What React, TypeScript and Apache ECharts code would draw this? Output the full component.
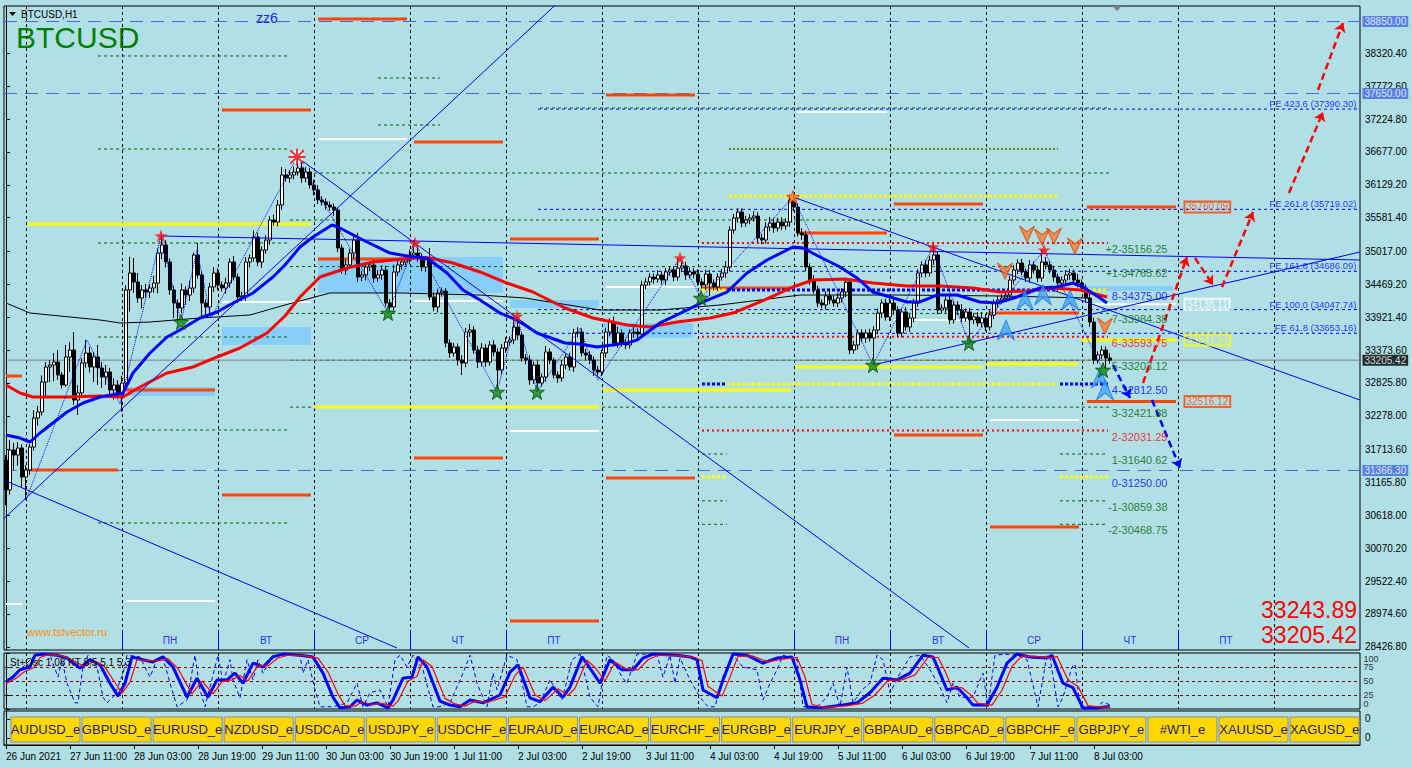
import React, { useEffect, useRef } from "react";
import * as echarts from "echarts";

const BG = "#B0E0E6";
const FONT = "'Liberation Sans', Arial, sans-serif";
const START_UTC = Date.UTC(2021, 5, 26, 19);
const N_SLOTS = 339;
const PRICE_MIN = 28373.5;
const PRICE_MAX = 39109;

// ---------- candles (hourly, from 26 Jun 2021 19:00) ----------
const FIRST_OPEN = 31541;
const CLOSE = [
  31041, 31707, 31624, 31741, 31257, 31374, 31757, 32241, 32341, 32841,
  33091, 33124, 33174, 32958, 32791, 33258, 33374, 32541, 32658, 33158,
  33324, 33091, 33258, 33074, 32924, 33008, 32708, 32791, 32624, 32824,
  34375, 34658, 34508, 34241, 34375, 34341, 34408, 34491, 34991, 35125,
  34841, 34375, 34158, 34075, 34375, 34291, 34408, 34958, 34625, 34158,
  34091, 34425, 34658, 34458, 34408, 34491, 34841, 34591, 34258, 34275,
  34841, 34908, 35258, 34841, 35041, 35208, 35542, 35508, 35792, 36292,
  36242, 36292, 36342, 36408, 36242, 36342, 36125, 36042, 35875, 35842,
  35792, 35758, 35708, 35075, 34708, 34792, 34991, 35208, 34591, 34625,
  34758, 34792, 34575, 34625, 34708, 34158, 34091, 34675, 34792, 34841,
  34875, 34958, 34991, 34908, 34758, 34875, 34258, 34091, 34325, 34358,
  33491, 33324, 33424, 33208, 33158, 33674, 33708, 33374, 33174, 33408,
  33174, 33458, 33341, 33041, 33408, 33508, 33541, 33758, 33625, 33241,
  33208, 32874, 33124, 32824, 32924, 33341, 33208, 32958, 32908, 33124,
  33258, 33091, 33658, 33674, 33324, 33291, 33208, 33041, 33008, 33324,
  33674, 33841, 33491, 33658, 33491, 33458, 33658, 33674, 33641, 34458,
  34508, 34591, 34558, 34625, 34541, 34675, 34708, 34591, 34741, 34775,
  34625, 34675, 34641, 34508, 34458, 34641, 34491, 34425, 34591, 34658,
  34758, 35375, 35575, 35675, 35492, 35542, 35575, 35608, 35242, 35208,
  35425, 35492, 35408, 35508, 35442, 35508, 35875, 35758, 35325, 35292,
  34758, 34541, 34375, 34158, 34125, 34275, 34208, 34158, 34241, 34341,
  34508, 33374, 33458, 33658, 33574, 33658, 33574, 33708, 33991, 34158,
  33925, 34158, 34041, 33658, 34008, 33758, 33908, 34158, 34658, 34792,
  34658, 34875, 34958, 34041, 34075, 34208, 33875, 34125, 34041, 33908,
  34008, 33875, 33925, 33825, 33908, 33758, 33958, 34158, 34208, 34241,
  34291, 34541, 34708, 34825, 34675, 34575, 34792, 34708, 34575, 34841,
  34792, 34708, 34591, 34491, 34541, 34625, 34658, 34541, 34491, 34408,
  34241, 33841, 33208, 33291, 33374, 33241, 33205.42,
];
const UP = [
  80, 170, 120, 100, 60, 80, 50, 130, 100, 110,
  80, 80, 150, 200, 50, 200, 130, 300, 130, 80,
  220, 100, 80, 200, 100, 120, 70, 110, 80, 120,
  80, 270, 250, 150, 80, 100, 60, 120, 80, 167,
  80, 60, 70, 60, 110, 60, 120, 40, 200, 60,
  60, 70, 100, 80, 60, 90, 60, 100, 60, 70,
  80, 60, 110, 70, 60, 80, 60, 90, 80, 130,
  100, 80, 90, 183, 90, 80, 70, 90, 80, 60,
  60, 60, 60, 40, 60, 80, 70, 60, 120, 70,
  80, 60, 90, 80, 80, 70, 60, 120, 80, 60,
  70, 90, 217, 100, 80, 60, 200, 80, 70, 60,
  50, 60, 70, 60, 80, 70, 100, 60, 70, 80,
  60, 70, 80, 60, 70, 80, 60, 150, 130, 40,
  60, 80, 60, 70, 60, 100, 60, 40, 60, 80,
  60, 70, 70, 80, 60, 70, 60, 60, 70, 60,
  70, 60, 90, 100, 60, 70, 60, 80, 60, 70,
  70, 60, 60, 80, 60, 70, 60, 60, 167, 70,
  70, 80, 60, 80, 60, 70, 70, 60, 60, 70,
  100, 60, 70, 60, 60, 70, 60, 80, 60, 70,
  80, 100, 80, 70, 80, 60, 90, 117, 60, 80,
  70, 60, 80, 70, 60, 80, 120, 70, 80, 60,
  60, 60, 70, 60, 60, 60, 70, 60, 80, 60,
  70, 80, 60, 60, 60, 80, 60, 70, 60, 60,
  80, 70, 167, 70, 60, 60, 80, 70, 60, 100,
  60, 70, 60, 80, 100, 70, 80, 60, 70, 60,
  60, 70, 80, 60, 70, 60, 80, 60, 70, 200,
  80, 60, 70, 60, 60, 80, 70, 60, 100, 60,
  60, 80, 70, 60, 70, 60, 80,
];
const DN = [
  250, 80, 250, 180, 170, 380, 80, 60, 130, 60,
  270, 250, 270, 80, 60, 30, 250, 80, 250, 80,
  80, 90, 250, 280, 180, 130, 80, 160, 50, 280,
  100, 360, 180, 80, 170, 90, 100, 80, 170, 100,
  90, 80, 250, 233, 90, 160, 100, 80, 60, 250,
  180, 100, 80, 90, 60, 100, 80, 60, 100, 70,
  80, 90, 60, 70, 100, 60, 80, 60, 70, 80,
  60, 80, 70, 60, 80, 70, 60, 90, 70, 60,
  80, 60, 100, 70, 60, 80, 60, 90, 80, 70,
  90, 70, 80, 60, 80, 60, 100, 60, 70, 80,
  60, 70, 80, 60, 70, 80, 60, 70, 90, 60,
  70, 80, 60, 90, 200, 70, 80, 60, 100, 70,
  80, 60, 70, 333, 70, 80, 60, 70, 80, 60,
  70, 80, 60, 150, 60, 80, 70, 60, 80, 60,
  70, 60, 80, 70, 60, 80, 70, 100, 60, 70,
  80, 70, 60, 80, 60, 70, 60, 80, 70, 60,
  70, 60, 80, 60, 70, 80, 60, 70, 60, 70,
  80, 60, 70, 60, 60, 80, 217, 60, 70, 60,
  80, 70, 60, 80, 70, 60, 70, 60, 80, 70,
  60, 70, 80, 60, 70, 60, 80, 70, 60, 80,
  70, 80, 60, 70, 60, 80, 70, 60, 70, 80,
  83, 70, 60, 80, 70, 80, 60, 450, 70, 80,
  60, 70, 80, 60, 70, 60, 80, 70, 60, 70,
  70, 60, 80, 70, 60, 80, 70, 60, 80, 70,
  60, 417, 70, 60, 80, 70, 60, 70, 80, 60,
  70, 60, 80, 70, 60, 70, 80, 60, 70, 60,
  70, 60, 80, 70, 60, 70, 80, 60, 70, 60,
  80, 80, 70, 60, 70, 200, 60,
];

// ---------- axes ----------
const PRICE_TICKS = [28426.8, 28974.6, 29522.4, 30070.2, 30618.0, 31165.8, 31713.6, 32278.0, 32825.8, 33373.6,
  33921.4, 34469.2, 35017.0, 35581.4, 36129.2, 36677.0, 37224.8, 37772.6, 38320.4];
const TIME_TICKS = [0, 16, 32, 48, 64, 80, 96, 112, 128, 144, 160, 176, 192, 208, 224, 240, 256, 272];
const OSC_TICKS = [0, 25, 50, 75, 100];
const DAY_SEPS = [5, 29, 53, 77, 101, 125, 149, 173, 197, 221, 245, 269, 293, 317];
const DAY_BOUNDS = [29, 53, 77, 101, 125, 197, 221, 245, 269, 293];
const DAY_NAMES = [
  { idx: 41, name: "ПН" }, { idx: 65, name: "ВТ" }, { idx: 89, name: "СР" }, { idx: 113, name: "ЧТ" }, { idx: 137, name: "ПТ" },
  { idx: 209, name: "ПН" }, { idx: 233, name: "ВТ" }, { idx: 257, name: "СР" }, { idx: 281, name: "ЧТ" }, { idx: 305, name: "ПТ" },
];
const MONTHS = ["Jan", "Feb", "Mar", "Apr", "May", "Jun", "Jul", "Aug", "Sep", "Oct", "Nov", "Dec"];

// ---------- indicators [hour index, price] ----------
const MA_FAST = [[0, 31958], [3.5, 31907], [6, 31841], [8.5, 31991], [15.25, 32341], [19.25, 32491], [23.5, 32591], [29.25, 32658],
  [31.75, 32991], [36, 33324], [40.25, 33591], [43.5, 33708], [48.5, 33908], [52.75, 34008], [56.75, 34158], [61.75, 34325],
  [66.75, 34591], [69.75, 34792], [73.5, 35091], [76.75, 35258], [81.5, 35458], [83, 35425], [89.25, 35208], [96, 34991],
  [101.75, 34925], [105.25, 34908], [110.25, 34658], [114.25, 34375], [118.5, 34208], [123.5, 33991], [127.75, 33875],
  [132.75, 33658], [139.75, 33491], [143.5, 33474], [147.75, 33424], [155.25, 33491], [157.75, 33541], [163.5, 33825],
  [169.25, 34008], [174.25, 34175], [180.25, 34341], [185.25, 34658], [190.25, 34875], [196.75, 35091], [199.25, 35075],
  [203.5, 34925], [208.5, 34758], [212.75, 34575], [216.75, 34341], [225.25, 34175], [228.5, 34175], [232.75, 34291],
  [237.75, 34291], [243.5, 34175], [247.75, 34158], [252.75, 34258], [258.5, 34408], [262.75, 34425], [266.75, 34491],
  [269.25, 34425], [273.5, 34241], [275.25, 34158]];
const MA_MID = [[0, 32791], [3.5, 32658], [6.75, 32591], [15.25, 32591], [23.5, 32608], [29.25, 32591], [33.5, 32758],
  [40.25, 32991], [46.75, 33091], [52.75, 33258], [58.5, 33408], [65.25, 33658], [69.75, 33941], [73.5, 34258], [78.5, 34591],
  [85.25, 34741], [91.75, 34841], [101.75, 34908], [106, 34908], [111.75, 34825], [118.5, 34675], [125.25, 34491],
  [131.75, 34341], [139.75, 34075], [146.75, 33908], [155.25, 33791], [161, 33758], [167.75, 33841], [176, 33908],
  [181.75, 33991], [188.5, 34175], [196.75, 34425], [201.75, 34541], [209.75, 34558], [216.75, 34491], [225.25, 34441],
  [233.5, 34441], [241.75, 34408], [248.5, 34341], [255.25, 34358], [261.75, 34408], [268.5, 34375], [275.25, 34258]];
const MA_LONG = [[0, 34158], [6, 33991], [23.5, 33875], [28.5, 33825], [36, 33841], [48.5, 33908], [61, 33958], [69.75, 34125],
  [81, 34325], [98.5, 34325], [118.5, 34291], [129.75, 34241], [148.5, 34041], [163.5, 34041], [178.5, 34125], [188.5, 34208],
  [198.5, 34291], [223.5, 34291], [248.5, 34275], [271, 34241]];
const ZIGZAG = [[5, 30874], [20.25, 33541], [28.5, 32474], [38.75, 35275], [43.75, 33841], [47.75, 35041], [51.25, 33908],
  [72.75, 36592], [95.5, 33991], [102.25, 35158], [122.75, 32674], [127.75, 33941], [132.75, 32674], [143.5, 33741],
  [148, 32874], [168.5, 34908], [173.75, 34241], [196.75, 35925], [216.75, 33124], [231.75, 35091], [240.75, 33491],
  [259.5, 35041], [274.25, 33041]];
const TRENDLINES = [
  [[-0.5, 30566], [137.35, 39126]],
  [[72.75, 36592], [240.75, 28407]],
  [[0, 31191], [97.75, 28407]],
  [[38.75, 35275], [338.5, 34875]],
  [[216.75, 33124], [338.5, 35008]],
  [[196.75, 35925], [338.5, 32541]],
];
const STAR_HIGH = [[38.75, 35275], [102.25, 35158], [127.75, 33941], [168.5, 34908], [231.75, 35091], [259.5, 35041]];
const STAR_TOP = [[196.75, 35925]];
const PEAK = [[72.75, 36592]];
const STAR_LOW = [[43.75, 33841], [95.5, 33991], [122.75, 32674], [132.75, 32674], [173.75, 34241], [216.75, 33124],
  [240.75, 33491], [274.25, 33041]];
const ARROWS_DOWN = [[249.75, 34691], [255.25, 35308], [259, 35258], [262, 35275], [267.25, 35108], [274.75, 33775]];
const ARROWS_UP = [[250, 33708], [254.75, 34208], [259.25, 34291], [266, 34208], [273.5, 32908], [274.75, 32708]];
const RED_PATH = [[[284.25, 32824], [295.25, 34925]], [[297.25, 34908], [301.75, 34458]], [[304, 34425], [311.75, 35675]],
  [[320.75, 35992], [329.25, 37342]], [[328, 37709], [334.25, 38826]]];
const BLUE_PATH = [[[276.75, 33124], [281, 32574]], [[286.5, 32541], [293.5, 31407]]];

// ---------- levels [from, to, price] ----------
const ORANGE_LEVELS = [[78, 100.25, 38892], [54, 76.25, 37375], [102, 124.25, 36842], [150, 172.25, 37625], [126, 148.25, 35225],
  [78, 100.25, 34891], [30, 52.25, 32708], [6, 28, 31374], [0, 4, 32941], [54, 76.25, 30957], [102, 124.25, 31574],
  [150, 172.25, 31241], [126, 148.25, 28857], [174, 196.25, 34408], [198, 220.25, 35325], [222, 244.25, 35808],
  [222, 244.25, 31958], [246, 268.25, 33991], [246, 268.25, 30424], [270.25, 292.5, 35760.09], [270.25, 292.5, 32516.12]];
const WHITE_LEVELS = [[78, 100.25, 36892], [30, 52.25, 29190], [54, 76.25, 34175], [102, 124.25, 34191], [126, 148.25, 32024],
  [150, 172.25, 34425], [197.75, 220.25, 37342], [222, 244.25, 33875], [246, 268.25, 32208], [270.25, 292.5, 34138.11],
  [0, 4, 29140]];
const YELLOW_LEVELS = [[5.25, 76.25, 35475], [77, 148.25, 32424], [149.25, 196.25, 32708], [197.25, 244.25, 33091],
  [245.25, 268, 33141], [269, 292.5, 33541.51]];
const YELLOW_DOTS = [[180.75, 263, 35942], [180.25, 263, 32808], [174, 180.25, 31257], [263.5, 275.5, 31257],
  [174, 180.25, 34375], [263, 275.5, 34375]];
const BLUE_DOTS = [[174, 180.25, 32808], [263.5, 275.5, 32808], [180.25, 263, 34375]];
const RED_DOTS = [[174, 275.5, 35156.25], [174, 275.5, 33593.75], [174, 275.5, 32031.25]];
const GREEN_DASH = [
  [23, 70.25, 38276], [23, 70.25, 36725], [23, 70.25, 35158], [23, 70.25, 33591], [23, 70.25, 32041], [23, 70.25, 30491],
  [71, 276, 36325], [71, 276, 35542], [71, 276, 34765.62], [71, 276, 33984.38], [71, 276, 33203.12], [71, 276, 32421.88],
  [93, 108.5, 37909], [93, 108.5, 37125], [133.5, 276, 37409],
  [263.5, 275.5, 31640.62], [263.5, 275.5, 30859.38], [263.5, 275.5, 30468.75],
  [174, 180.25, 31640.62], [174, 180.25, 30859.38], [174, 180.25, 30468.75]];
const OLIVE_DOTS = [[180.75, 263, 36725]];
const LIGHT_BOXES = [[78, 124.25, 34925, 34325], [54, 76.25, 33758, 33458], [30, 52.25, 32758, 32608],
  [126, 148.25, 34208, 34075], [149.25, 171.75, 33825, 33575], [268.5, 291.75, 34441, 34358]];
const FE_RATIOS = ["423.6", "261.8", "161.8", "100.0", "61.8"];
const FE_PRICES = [37390.30, 35719.02, 34686.09, 34047.74, 33653.16];
const FE_START = 133;
const H_LINES = [38850, 37650, 31366.3];
const LAST_PRICE = 33205.42;
const ASK_PRICE = 33243.89;
const LEVEL_TAGS = [
  { p: 35760.09, c: "#FF4500" }, { p: 34138.11, c: "#FFFFFF" }, { p: 33541.51, c: "#FFFF00" }, { p: 32516.12, c: "#FF4500" }];
const MURREY_NAMES = ["+2", "+1", "8", "7", "6", "5", "4", "3", "2", "1", "0", "-1", "-2"];
const MURREY_PRICES = [35156.25, 34765.62, 34375.0, 33984.38, 33593.75, 33203.12, 32812.5, 32421.88, 32031.25, 31640.62,
  31250.0, 30859.38, 30468.75];
const MURREY_COLORS = ["#006400", "#006400", "#0000FF", "#006400", "#FF0000", "#006400", "#0000FF", "#006400", "#FF0000",
  "#006400", "#0000FF", "#006400", "#006400"];

// ---------- oscillator [hour index, value] ----------
const OSC_K = [[0, 49], [1.75, 57], [3.5, 70], [6, 75], [7.25, 96], [9.25, 98], [12.75, 96], [15.25, 91], [18.5, 73], [21, 88],
  [23.5, 79], [26, 46], [28, 23], [29.75, 46], [31.5, 93], [34.25, 88], [36.75, 84], [39.25, 93], [41.75, 75], [45.25, 21],
  [47.75, 55], [50.5, 21], [52.75, 52], [55.25, 52], [57.25, 64], [59.25, 46], [61.75, 82], [64.25, 75], [66.75, 93],
  [69.25, 98], [73.5, 96], [76.75, 93], [79.25, 64], [81.75, 21], [83.5, 2], [86, 4], [87.75, 16], [90.25, 7], [92.75, 11],
  [95.5, 2], [96.75, 16], [99.25, 55], [101.5, 57], [103, 93], [105.25, 75], [108.5, 14], [111, 7], [113.5, 4], [116, 16],
  [119.25, 11], [123.5, 25], [126, 66], [128, 79], [131, 20], [133.5, 13], [136.75, 39], [139.25, 21], [141, 39], [144, 93],
  [146, 73], [148.5, 46], [151, 88], [154, 70], [156.75, 70], [159.25, 91], [161.75, 98], [167.75, 96], [171, 93],
  [172.75, 88], [174.25, 34], [177.75, 20], [179.25, 52], [181.75, 98], [185.25, 96], [189.25, 82], [192.75, 91],
  [196.5, 93], [198.5, 52], [200.25, 4], [203.5, 2], [209.25, 7], [212.75, 11], [216, 29], [219.25, 55], [222.75, 52],
  [226, 64], [229.25, 96], [231.75, 93], [233.5, 64], [235.25, 34], [237.75, 39], [240.25, 20], [241.75, 7], [245.25, 7],
  [247.75, 39], [250.25, 82], [252.75, 98], [256, 93], [260.25, 91], [261.5, 96], [264.25, 46], [266.75, 38], [269.25, 2],
  [272.75, 2], [276, 5]];
const OSC_D = [[0, 45], [2.5, 55], [4.5, 66], [7, 74], [8.5, 92], [10.5, 97], [14, 95], [16.5, 88], [19.5, 76], [22, 85],
  [24.5, 77], [27, 50], [29, 28], [31, 48], [32.75, 88], [35.5, 87], [38, 86], [40.5, 90], [43, 72], [46.5, 27], [49, 50],
  [51.75, 27], [54, 49], [56.5, 52], [58.5, 60], [60.5, 50], [63, 78], [65.5, 77], [68, 91], [70.5, 96], [74.75, 95],
  [78, 91], [80.5, 66], [83, 27], [84.75, 6], [87.25, 5], [89, 13], [91.5, 8], [94, 10], [96.75, 5], [98, 14], [100.5, 50],
  [102.75, 58], [104.25, 88], [106.5, 76], [109.75, 19], [112.25, 9], [114.75, 5], [117.25, 14], [120.5, 12], [124.75, 22],
  [127.25, 60], [129.25, 75], [132.25, 25], [134.75, 15], [138, 36], [140.5, 24], [142.25, 37], [145.25, 87], [147.25, 74],
  [149.75, 50], [152.25, 84], [155.25, 71], [158, 70], [160.5, 88], [163, 96], [169, 95], [172.25, 92], [174, 86],
  [175.5, 40], [179, 23], [180.5, 48], [183, 94], [186.5, 95], [190.5, 84], [194, 89], [197.75, 92], [199.75, 57],
  [201.5, 8], [204.75, 3], [210.5, 6], [214, 10], [217.25, 25], [220.5, 51], [224, 52], [227.25, 61], [230.5, 92],
  [233, 92], [234.75, 68], [236.5, 38], [239, 38], [241.5, 23], [243, 10], [246.5, 7], [249, 34], [251.5, 76], [254, 95],
  [257.25, 94], [261.5, 91], [262.75, 94], [265.5, 52], [268, 40], [270.5, 6], [274, 3], [276, 5]];
const OSC_FAST = [[0, 49], [3.5, 70], [7.25, 96], [9.25, 96], [11, 96], [13, 57], [14, 88], [15.25, 46], [17.25, 11], [18, 11],
  [19.25, 75], [20.5, 96], [22.75, 75], [24.25, 21], [25.25, 11], [27.25, 25], [29.25, 64], [30.25, 96], [33.5, 93], [36, 57],
  [37.75, 88], [39.25, 91], [41, 46], [42.75, 4], [45.25, 16], [47.25, 96], [48.5, 34], [49.75, 4], [53, 96], [54.25, 46],
  [56, 88], [56.75, 52], [58.5, 20], [60.25, 88], [61.75, 52], [63, 88], [64.25, 64], [66.75, 96], [73.5, 96], [74.25, 64],
  [75.5, 88], [77.25, 34], [78.5, 4], [81.75, 4], [85.25, 11], [87.75, 46], [89.25, 4], [91, 29], [93.5, 34], [95.5, 4],
  [97.25, 88], [98.5, 96], [100.25, 75], [101.75, 96], [104.25, 70], [106.75, 4], [108.5, 4], [111, 11], [114.25, 64],
  [116, 96], [117.75, 46], [120.25, 4], [121.75, 64], [122.75, 34], [125.25, 96], [127.75, 88], [130.25, 4], [131.75, 4],
  [133.5, 11], [136, 52], [139, 16], [141.5, 88], [143.5, 98], [146, 21], [148, 4], [150.25, 96], [151.75, 88], [154, 57],
  [155.25, 46], [157.75, 98], [162.75, 98], [164.25, 57], [166, 96], [167.25, 46], [168.5, 91], [171, 52], [173.5, 21],
  [175.5, 4], [177.25, 4], [179.25, 57], [181.75, 96], [184.25, 75], [187.75, 70], [189.25, 16], [191, 46], [192.75, 70],
  [194.25, 96], [197.75, 88], [199.25, 4], [202.75, 4], [205.25, 21], [206.75, 46], [208.5, 4], [210.25, 75], [211.75, 11],
  [214, 34], [216, 46], [217.75, 96], [219.25, 88], [221, 29], [223.5, 64], [226, 93], [228.5, 96], [231, 70], [233.5, 39],
  [235.25, 11], [236.75, 46], [238.5, 21], [241.75, 21], [243.5, 52], [244.25, 64], [245.5, 4], [247.25, 96], [249.75, 98],
  [252.75, 96], [255.25, 88], [258, 4], [260.25, 96], [261, 91], [263, 4], [264.25, 21], [266.5, 75], [267.25, 80],
  [268.5, 4], [270.25, 4], [272.75, 4], [274.25, 13], [276, 7]];

const BUTTONS = ["AUDUSD_e", "GBPUSD_e", "EURUSD_e", "NZDUSD_e", "USDCAD_e", "USDJPY_e", "USDCHF_e", "EURAUD_e", "EURCAD_e",
  "EURCHF_e", "EURGBP_e", "EURJPY_e", "GBPAUD_e", "GBPCAD_e", "GBPCHF_e", "GBPJPY_e", "#WTI_e", "XAUUSD_e", "XAGUSD_e"];

const STAR = "path://M0,-10L2.35,-3.24L9.51,-3.09L3.8,1.24L5.88,8.09L0,4L-5.88,8.09L-3.8,1.24L-9.51,-3.09L-2.35,-3.24Z";
const ARROW_DOWN = "path://M0,0L10,7L20,0L10,20Z";
const ARROW_UP = "path://M10,0L20,20L10,13L0,20Z";
const ASTER = "path://M-1,-9h2v18h-2zM-9,-1h18v2h-18zM-6.4,-7.8L7.8,6.4L6.4,7.8L-7.8,-6.4zM6.4,-7.8L7.8,-6.4L-6.4,7.8L-7.8,6.4z";

function fmtTime(v: number) {
  const d = new Date(START_UTC + Math.round(v) * 3600000);
  const day = d.getUTCDate();
  const mon = MONTHS[d.getUTCMonth()];
  if (v === 0) return `${day} ${mon} ${d.getUTCFullYear()}`;
  const hh = String(d.getUTCHours()).padStart(2, "0");
  return `${day} ${mon} ${hh}:00`;
}

function segSeries(data: number[][], color: string, width: number, dash?: number[], z = 2) {
  return {
    type: "custom", xAxisIndex: 1, yAxisIndex: 0, z, silent: true, data,
    renderItem: (params: any, api: any) => {
      const a = api.coord([api.value(0), api.value(2)]);
      const b = api.coord([api.value(1), api.value(2)]);
      return {
        type: "line", shape: { x1: a[0], y1: a[1], x2: b[0], y2: b[1] },
        style: { stroke: color, lineWidth: width, lineDash: dash || null, fill: null },
      };
    },
  };
}

function vSepSeries(xAxisIndex: number, yAxisIndex: number) {
  return {
    type: "custom", xAxisIndex, yAxisIndex, z: 1, silent: true, data: DAY_SEPS.map((v) => [v, 0]),
    renderItem: (params: any, api: any) => {
      const x = Math.round(api.coord([api.value(0), 0])[0]) + 0.5;
      const cs = params.coordSys;
      return {
        type: "line", shape: { x1: x, y1: cs.y, x2: x, y2: cs.y + cs.height },
        style: { stroke: "#000", lineWidth: 1, lineDash: [3, 3] },
      };
    },
  };
}

function buildOption() {
  const candles = CLOSE.map((c, i) => {
    const o = i === 0 ? FIRST_OPEN : CLOSE[i - 1];
    return [o, c, Math.min(o, c) - DN[i], Math.max(o, c) + UP[i]];
  });
  const slots = Array.from({ length: N_SLOTS }, (_, i) => String(i));
  const hidden = (grid: number) => ({ type: "value", gridIndex: grid, min: -0.5, max: 338.5, show: false });

  const lineSer = (data: number[][], color: string, width: number, type: any = "solid", z = 4) => ({
    type: "line", xAxisIndex: 1, yAxisIndex: 0, data, showSymbol: false, symbol: "none", z, silent: true,
    lineStyle: { color, width, type }, clip: true,
  });

  const tag = (pts: number[][], bg: string, color: string, border?: string, dist = 2) => ({
    type: "scatter", xAxisIndex: 1, yAxisIndex: 0, symbolSize: 1, clip: false, z: 10, silent: true,
    itemStyle: { color: "rgba(0,0,0,0)" }, data: pts,
    label: {
      show: true, position: "right", distance: dist, formatter: (p: any) => p.value[1].toFixed(2),
      backgroundColor: bg, color, borderColor: border || "transparent", borderWidth: border ? 1 : 0,
      padding: [1, 2, 0, 2], fontSize: 10, fontFamily: FONT,
    },
  });

  const series: any[] = [
    {
      type: "custom", xAxisIndex: 1, yAxisIndex: 0, z: 1, silent: true, data: LIGHT_BOXES,
      renderItem: (params: any, api: any) => {
        const a = api.coord([api.value(0), api.value(2)]);
        const b = api.coord([api.value(1), api.value(3)]);
        return { type: "rect", shape: { x: a[0], y: a[1], width: b[0] - a[0], height: b[1] - a[1] }, style: { fill: "#87CEFA" } };
      },
    },
    vSepSeries(1, 0),
    vSepSeries(2, 1),
    segSeries(GREEN_DASH, "#006400", 1, [3, 3]),
    segSeries(OLIVE_DOTS, "#6B8E23", 2, [2, 2]),
    segSeries(FE_PRICES.map((p) => [FE_START, 338.5, p]), "#0000FF", 1, [3, 3]),
    segSeries(H_LINES.map((p) => [-0.5, 338.5, p]), "#4169E1", 1, [13, 8]),
    segSeries([[-0.5, 338.5, LAST_PRICE]], "#808080", 1),
    segSeries(RED_DOTS, "#FF0000", 2, [2, 3]),
    segSeries(YELLOW_LEVELS, "#FFFF00", 3),
    segSeries(WHITE_LEVELS, "#FFFFFF", 2),
    segSeries(ORANGE_LEVELS, "#FF4500", 3),
    segSeries(YELLOW_DOTS, "#FFFF00", 3, [3, 2]),
    segSeries(BLUE_DOTS, "#0000FF", 3, [3, 2]),
    {
      type: "custom", xAxisIndex: 1, yAxisIndex: 0, z: 2, silent: true, data: DAY_BOUNDS.map((v) => [v, 0]),
      renderItem: (params: any, api: any) => {
        const x = Math.round(api.coord([api.value(0), 0])[0]) + 0.5;
        const cs = params.coordSys;
        const b = cs.y + cs.height;
        return { type: "line", shape: { x1: x, y1: b - 17, x2: x, y2: b }, style: { stroke: "#0000FF", lineWidth: 1 } };
      },
    },
    {
      type: "custom", xAxisIndex: 1, yAxisIndex: 0, z: 2, silent: true, data: DAY_NAMES.map((d) => [d.idx, 0]),
      renderItem: (params: any, api: any) => {
        const x = api.coord([api.value(0), 0])[0];
        const cs = params.coordSys;
        return {
          type: "text", x, y: cs.y + cs.height - 10,
          style: { text: DAY_NAMES[params.dataIndex].name, fill: "#3030FF", fontSize: 10, fontFamily: FONT, align: "center", verticalAlign: "middle" },
        };
      },
    },
    {
      type: "candlestick", xAxisIndex: 0, yAxisIndex: 0, data: candles, barWidth: 3, z: 3, silent: true,
      itemStyle: { color: "#FFFFFF", color0: "#000000", borderColor: "#000000", borderColor0: "#000000", borderWidth: 1 },
    },
    lineSer(MA_LONG, "#000000", 1),
    lineSer(MA_MID, "#FF0000", 3),
    lineSer(MA_FAST, "#0000FF", 3),
    lineSer(ZIGZAG, "#0000FF", 1, "dotted"),
    ...TRENDLINES.map((t) => lineSer(t, "#0000FF", 1)),
    {
      type: "lines", coordinateSystem: "cartesian2d", xAxisIndex: 1, yAxisIndex: 0, z: 6, silent: true,
      data: RED_PATH.map((c) => ({ coords: c })), symbol: ["none", "arrow"], symbolSize: 9,
      lineStyle: { color: "#FF0000", width: 2.5, type: [7, 4], opacity: 1 },
    },
    {
      type: "lines", coordinateSystem: "cartesian2d", xAxisIndex: 1, yAxisIndex: 0, z: 6, silent: true,
      data: BLUE_PATH.map((c) => ({ coords: c })), symbol: ["none", "arrow"], symbolSize: 9,
      lineStyle: { color: "#0000FF", width: 2.5, type: [7, 4], opacity: 1 },
    },
    {
      type: "scatter", xAxisIndex: 1, yAxisIndex: 0, z: 7, silent: true, data: ARROWS_DOWN, symbol: ARROW_DOWN, symbolSize: [15, 16],
      itemStyle: { color: "rgba(255,110,20,0.85)", borderColor: "#E04000", borderWidth: 1 },
    },
    {
      type: "scatter", xAxisIndex: 1, yAxisIndex: 0, z: 7, silent: true, data: ARROWS_UP, symbol: ARROW_UP, symbolSize: [17, 20],
      itemStyle: { color: "rgba(60,160,255,0.9)", borderColor: "#1E78E0", borderWidth: 1 },
    },
    {
      type: "scatter", xAxisIndex: 1, yAxisIndex: 0, z: 8, silent: true, data: STAR_HIGH, symbol: STAR, symbolSize: 13,
      itemStyle: { color: "#FF1010" },
    },
    {
      type: "scatter", xAxisIndex: 1, yAxisIndex: 0, z: 8, silent: true, data: STAR_TOP, symbol: STAR, symbolSize: 13,
      itemStyle: { color: "#FF9A00", borderColor: "#FF2020", borderWidth: 1 },
    },
    {
      type: "scatter", xAxisIndex: 1, yAxisIndex: 0, z: 8, silent: true, data: STAR_LOW, symbol: STAR, symbolSize: 15,
      itemStyle: { color: "#128A12", borderColor: "#0A4A0A", borderWidth: 1 },
    },
    {
      type: "scatter", xAxisIndex: 1, yAxisIndex: 0, z: 8, silent: true, data: PEAK, symbol: "emptyCircle", symbolSize: 13,
      itemStyle: { color: "rgba(0,0,0,0)", borderColor: "#FF0000", borderWidth: 2 },
    },
    {
      type: "scatter", xAxisIndex: 1, yAxisIndex: 0, z: 8, silent: true, data: PEAK, symbol: ASTER, symbolSize: 17,
      itemStyle: { color: "#FF0000" },
    },
    tag(H_LINES.map((p) => [338.5, p]), "#4169E1", "#FFFFFF"),
    tag([[338.5, LAST_PRICE]], "#000000", "#FFFFFF"),
    ...LEVEL_TAGS.map((t) => tag([[292.5, t.p]], "transparent", t.c, t.c, 8)),
    {
      type: "scatter", xAxisIndex: 1, yAxisIndex: 0, symbolSize: 1, clip: false, z: 10, silent: true,
      itemStyle: { color: "rgba(0,0,0,0)" },
      data: FE_PRICES.map((p, k) => ({ value: [338.5, p], name: `FE ${FE_RATIOS[k]} (${p.toFixed(2)})` })),
      label: {
        show: true, position: [0, 0], align: "right", verticalAlign: "bottom", offset: [-3, 0],
        formatter: (p: any) => p.name, color: "#0000FF", fontSize: 9.5, fontFamily: FONT,
      },
    },
    {
      type: "scatter", xAxisIndex: 1, yAxisIndex: 0, symbolSize: 1, clip: false, z: 10, silent: true,
      itemStyle: { color: "rgba(0,0,0,0)" },
      data: MURREY_PRICES.map((p, k) => ({
        value: [290.5, p], name: `${MURREY_NAMES[k]}-${p.toFixed(2)}`, label: { color: MURREY_COLORS[k] },
      })),
      label: {
        show: true, position: [0, 0], align: "right", verticalAlign: "top", offset: [0, 1],
        formatter: (p: any) => p.name, fontSize: 11, fontFamily: FONT,
      },
    },
    // oscillator scale labels
    {
      type: "scatter", xAxisIndex: 2, yAxisIndex: 1, symbolSize: 1, clip: false, z: 10, silent: true,
      itemStyle: { color: "rgba(0,0,0,0)" },
      data: OSC_TICKS.map((v) => ({
        value: [338.5, v],
        label: { offset: [0, v === 100 ? 5.5 : v === 0 ? -5.5 : 0] },
      })),
      label: {
        show: true, position: "right", distance: 3, formatter: (p: any) => String(p.value[1]),
        color: "#000", fontSize: 9, lineHeight: 8, fontFamily: FONT,
      },
    },
    {
      type: "line", xAxisIndex: 2, yAxisIndex: 1, data: OSC_FAST, showSymbol: false, symbol: "none", silent: true, z: 3,
      lineStyle: { color: "#0000FF", width: 1, type: [4, 3] },
    },
    {
      type: "line", xAxisIndex: 2, yAxisIndex: 1, data: OSC_K, showSymbol: false, symbol: "none", silent: true, z: 4,
      lineStyle: { color: "#0000FF", width: 3 },
    },
    {
      type: "line", xAxisIndex: 2, yAxisIndex: 1, data: OSC_D, showSymbol: false, symbol: "none", silent: true, z: 5,
      lineStyle: { color: "#FF0000", width: 1.2 },
    },
  ];

  const graphic: any[] = [
    { type: "polygon", shape: { points: [[9, 12], [16, 12], [12.5, 16]] }, style: { fill: "#000" } },
    { type: "text", x: 21, y: 14.5, style: { text: "BTCUSD,H1", fill: "#000", fontSize: 10, fontFamily: FONT, verticalAlign: "middle" } },
    { type: "text", x: 16, y: 37.5, style: { text: "BTCUSD", fill: "#008000", fontSize: 30, fontFamily: FONT, verticalAlign: "middle" } },
    { type: "text", x: 256, y: 18, style: { text: "zz6", fill: "#2020FF", fontSize: 14, fontFamily: FONT, verticalAlign: "middle" } },
    { type: "text", x: 27, y: 632, style: { text: "www.tstvector.ru", fill: "#FF8C00", fontSize: 11, fontFamily: FONT, verticalAlign: "middle" } },
    { type: "text", x: 1357, y: 610, style: { text: ASK_PRICE.toFixed(2), fill: "#FF0000", fontSize: 23, fontFamily: FONT, align: "right", verticalAlign: "middle" } },
    { type: "text", x: 1357, y: 635, style: { text: LAST_PRICE.toFixed(2), fill: "#FF0000", fontSize: 23, fontFamily: FONT, align: "right", verticalAlign: "middle" } },
    { type: "text", x: 10, y: 662, z: 20, style: { text: "St+Osc 1.08 KT 8.5 5.1 5.3", fill: "#000", fontSize: 10, fontFamily: FONT, verticalAlign: "middle" } },
    { type: "polygon", shape: { points: [[1112, 6], [1122, 6], [1117, 11]] }, style: { fill: "#808080" } },
  ];
  BUTTONS.forEach((b, k) => {
    const x = 11 + k * 71.06;
    graphic.push({
      type: "group", x, y: 717, children: [
        { type: "rect", shape: { x: 0, y: 0, width: 69, height: 25 }, style: { fill: "#FFD700", stroke: "#8C8C8C", lineWidth: 1 } },
        { type: "text", x: 34.5, y: 12.5, style: { text: b, fill: "#1E1E6E", fontSize: 13, fontFamily: FONT, align: "center", verticalAlign: "middle" } },
      ],
    });
  });

  return {
    animation: false,
    backgroundColor: BG,
    textStyle: { fontFamily: FONT },
    grid: [
      { left: 4, top: 6, width: 1356, height: 644, show: true, borderColor: "#000", borderWidth: 1, backgroundColor: "transparent", containLabel: false, outerBoundsMode: "none" },
      { left: 4, top: 653, width: 1356, height: 56, show: true, borderColor: "#000", borderWidth: 1, backgroundColor: "transparent", containLabel: false, outerBoundsMode: "none" },
      { left: 4, top: 711, width: 1356, height: 34, show: true, borderColor: "#000", borderWidth: 1, backgroundColor: "transparent", containLabel: false, outerBoundsMode: "none" },
    ],
    xAxis: [
      { type: "category", gridIndex: 0, data: slots, boundaryGap: true, show: false },
      hidden(0),
      hidden(1),
      {
        type: "value", gridIndex: 2, min: -0.5, max: 338.5, position: "bottom",
        axisLine: { show: true, lineStyle: { color: "#000" } },
        axisTick: { show: true, customValues: TIME_TICKS, length: 4, lineStyle: { color: "#000" } },
        axisLabel: { show: true, customValues: TIME_TICKS, formatter: fmtTime, align: "left", margin: 6, fontSize: 10, color: "#000", fontFamily: FONT },
        splitLine: { show: false },
      },
    ],
    yAxis: [
      {
        type: "value", gridIndex: 0, min: PRICE_MIN, max: PRICE_MAX, position: "right",
        axisLine: { show: true, lineStyle: { color: "#000" } },
        axisTick: { show: true, customValues: PRICE_TICKS, length: 4, lineStyle: { color: "#000" } },
        axisLabel: { show: true, customValues: PRICE_TICKS, formatter: (v: number) => v.toFixed(2), margin: 5, fontSize: 10, color: "#000", fontFamily: FONT },
        splitLine: { show: false },
      },
      {
        type: "value", gridIndex: 1, min: 0, max: 100, interval: 25, position: "right",
        axisLine: { show: true, lineStyle: { color: "#000" } },
        axisTick: { show: true, customValues: OSC_TICKS, length: 4, lineStyle: { color: "#000" } },
        axisLabel: { show: false },
        splitLine: { show: true, showMinLine: false, showMaxLine: false, lineStyle: { color: "#800000", type: [3, 3] } },
      },
      {
        type: "value", gridIndex: 2, min: 0, max: 1, position: "right",
        axisLine: { show: true, lineStyle: { color: "#000" } },
        axisTick: { show: true, customValues: [0.206, 0.765], length: 4, lineStyle: { color: "#000" } },
        axisLabel: { show: true, customValues: [0.206, 0.765], formatter: () => "0", margin: 5, fontSize: 10, color: "#000", fontFamily: FONT },
        splitLine: { show: false },
      },
    ],
    series,
    graphic,
  };
}

export default function App() {
  const ref = useRef<HTMLDivElement>(null);
  useEffect(() => {
    const chart = echarts.init(ref.current as HTMLDivElement, null, { renderer: "svg" });
    chart.setOption(buildOption() as any);
    return () => chart.dispose();
  }, []);
  return <div ref={ref} style={{ position: "fixed", left: 0, top: 0, width: 1412, height: 768, background: BG }} />;
}
